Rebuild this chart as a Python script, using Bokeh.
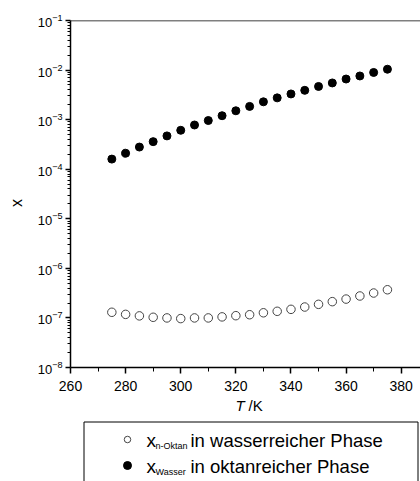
from bokeh.plotting import figure
from bokeh.layouts import column
from bokeh.models import Range1d, FixedTicker, Span
from bokeh.core.properties import value
from bokeh.embed import file_html
from bokeh.resources import INLINE

# ---- data ----
T = [275, 280, 285, 290, 295, 300, 305, 310, 315, 320, 325,
     330, 335, 340, 345, 350, 355, 360, 365, 370, 375]
x_wasser = [1.6e-4, 2.1e-4, 2.8e-4, 3.6e-4, 4.7e-4, 6.1e-4, 7.8e-4, 9.6e-4,
            1.2e-3, 1.51e-3, 1.85e-3, 2.29e-3, 2.75e-3, 3.3e-3, 3.9e-3,
            4.67e-3, 5.5e-3, 6.6e-3, 7.6e-3, 8.95e-3, 1.04e-2]
x_oktan = [1.3e-7, 1.18e-7, 1.1e-7, 1.03e-7, 1.0e-7, 0.97e-7, 1.0e-7, 1.0e-7,
           1.05e-7, 1.11e-7, 1.16e-7, 1.27e-7, 1.36e-7, 1.49e-7, 1.66e-7,
           1.88e-7, 2.13e-7, 2.4e-7, 2.77e-7, 3.18e-7, 3.7e-7]
x_ticks = [260, 280, 300, 320, 340, 360, 380]
x_minor = [270, 290, 310, 330, 350, 370]
decades = [1e-8, 1e-7, 1e-6, 1e-5, 1e-4, 1e-3, 1e-2, 1e-1]
y_title = "x"
x_title = ["T", "/K"]
legend_labels = ["x", "n-Oktan", "in wasserreicher Phase",
                 "x", "Wasser", "in oktanreicher Phase"]

FONT = value("Liberation Sans")

p = figure(width=420, height=395, y_axis_type="log",
           x_range=Range1d(260, 387), y_range=Range1d(1e-8, 1e-1),
           output_backend="svg", toolbar_location=None,
           min_border_left=70, min_border_top=20, min_border_bottom=28,
           min_border_right=0)
p.outline_line_color = None
p.grid.visible = False

y_minor = [m * d for d in decades[:-1] for m in range(2, 10)]
p.xaxis.ticker = FixedTicker(ticks=x_ticks, minor_ticks=x_minor)
p.yaxis.ticker = FixedTicker(ticks=decades, minor_ticks=y_minor)

for ax in (p.xaxis[0], p.yaxis[0]):
    ax.axis_line_width = 1.5
    ax.axis_line_color = "black"
    ax.major_tick_line_width = 1.5
    ax.minor_tick_line_width = 1
    ax.major_tick_in = 0
    ax.minor_tick_in = 0
    ax.major_label_text_font = "Liberation Sans"
    ax.major_label_text_color = "black"
    ax.axis_label_text_font = "Liberation Sans"
    ax.axis_label_text_font_style = "normal"
    ax.axis_label_text_color = "black"

p.xaxis.major_tick_out = 6
p.xaxis.minor_tick_out = 4
p.xaxis.major_label_text_font_size = "14px"
p.xaxis.major_label_standoff = 7

p.yaxis.major_tick_out = 5
p.yaxis.minor_tick_out = 3
p.yaxis.major_label_text_font_size = "13px"
p.yaxis.major_label_standoff = 3
p.yaxis.axis_label = y_title + "\u00a0" * 4
p.yaxis.axis_label_text_font_size = "16px"
p.yaxis.axis_label_standoff = 10

p.add_layout(Span(location=1e-1, dimension="width",
                  line_color="black", line_width=1.5))

p.scatter(T, x_oktan, marker="circle", size=8.5, fill_color="white",
          line_color="#444444", line_width=1)
p.scatter(T, x_wasser, marker="circle", size=8, fill_color="black",
          line_color="black")

# ---- lower panel: axis title and legend (image-pixel coordinates) ----
q = figure(width=420, height=86, x_range=Range1d(70, 420),
           y_range=Range1d(481, 395), output_backend="svg",
           toolbar_location=None, x_axis_location=None,
           y_axis_location=None, min_border_left=70, min_border_right=0,
           min_border_top=0, min_border_bottom=0)
q.outline_line_color = None
q.grid.visible = False

q.text(x=[235], y=[404.5], text=[x_title[0]], text_font=FONT,
       text_font_size="15px", text_font_style="italic",
       text_baseline="middle")
q.text(x=[248], y=[404.5], text=[x_title[1]], text_font=FONT,
       text_font_size="15px", text_baseline="middle")

q.line([83.5, 83.5, 417.5, 417.5], [490, 421.5, 421.5, 490],
       line_color="black", line_width=1)

q.scatter([127], [439], marker="circle", size=6.5, fill_color="white",
          line_color="#444444", line_width=1)
q.scatter([127], [465], marker="circle", size=8, fill_color="black",
          line_color="black")

q.text(x=[146, 146], y=[439.5, 465.5], text=[legend_labels[0], legend_labels[3]],
       text_font=FONT, text_font_size="19px", text_baseline="middle")
q.text(x=[155, 155], y=[445, 471], text=[legend_labels[1], legend_labels[4]],
       text_font=FONT, text_font_size="9px", text_baseline="middle")
q.text(x=[190, 190], y=[439.5, 465.5], text=[legend_labels[2], legend_labels[5]],
       text_font=FONT, text_font_size="18.5px", text_baseline="middle")

layout = column(p, q, spacing=0)
open("out.html", "w").write(file_html(layout, INLINE))
